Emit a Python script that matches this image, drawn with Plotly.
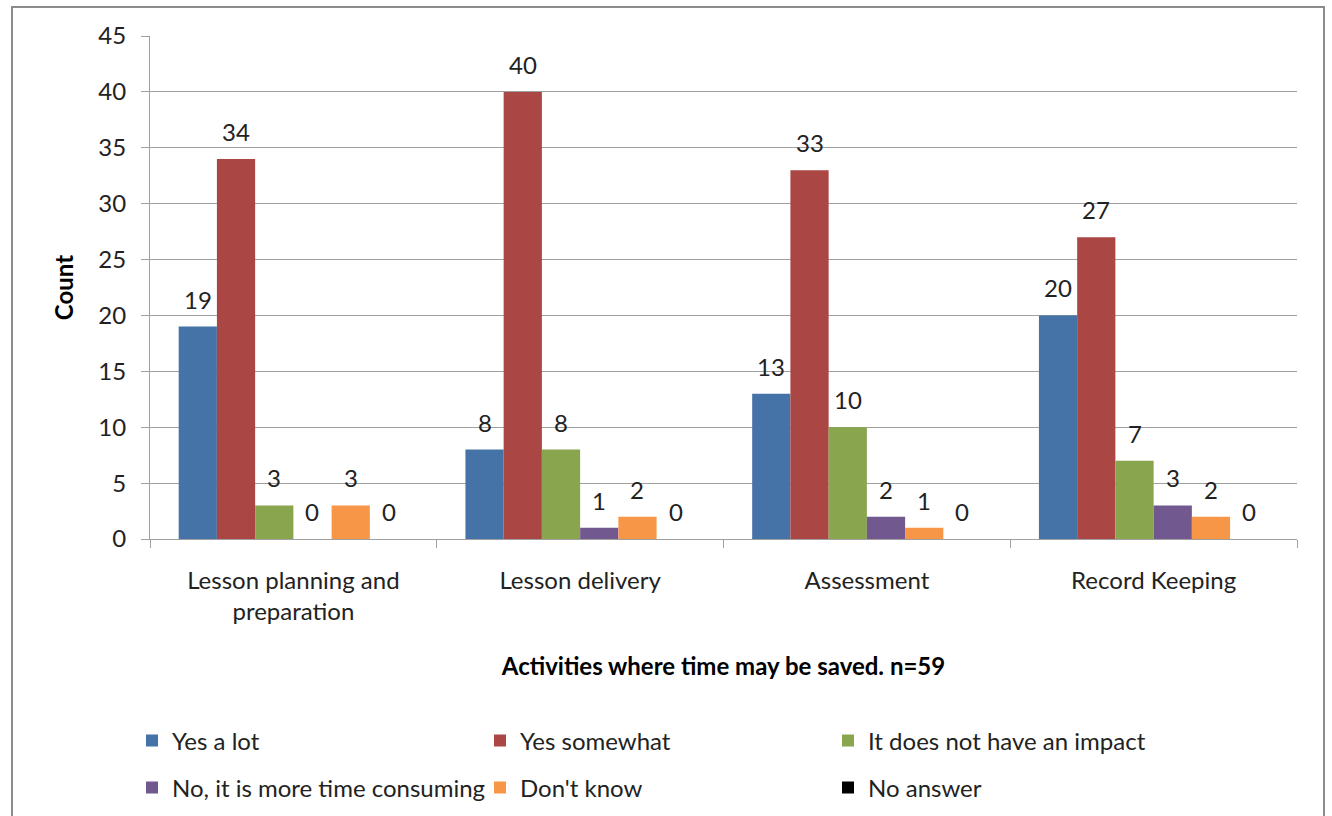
import plotly.graph_objects as go

categories = ["Lesson planning and<br>preparation", "Lesson delivery", "Assessment", "Record Keeping"]
series_names = ["Yes a lot", "Yes somewhat", "It does not have an impact",
                "No, it is more time consuming", "Don't know", "No answer"]
yes_a_lot = [19, 8, 13, 20]
yes_somewhat = [34, 40, 33, 27]
no_impact = [3, 8, 10, 7]
more_time = [0, 1, 2, 3]
dont_know = [3, 2, 1, 2]
no_answer = [0, 0, 0, 0]
y_ticks = [0, 5, 10, 15, 20, 25, 30, 35, 40, 45]

values = [yes_a_lot, yes_somewhat, no_impact, more_time, dont_know, no_answer]
colors = ["#4572A7", "#AA4643", "#89A54E", "#71588F", "#F79646", "#000000"]

FONT = "Lato"
FS = 24
TXT = "#222222"
W, H = 1332, 816
L, R, T, B = 150, 35, 36, 277
BARGAP = 0.2

pw = W - L - R
ph = H - T - B
n_series = len(series_names)
bar_px = pw / len(categories) * (1 - BARGAP) / n_series

fig = go.Figure()
for i, (name, vals, col) in enumerate(zip(series_names, values, colors)):
    fig.add_trace(go.Bar(
        x=categories, y=vals, name=name,
        marker=dict(color=col, line=dict(width=0)),
        legend="legend" if i < 3 else "legend2",
    ))
    # value labels centred over each bar
    for cat, v in zip(categories, vals):
        fig.add_annotation(
            x=cat, y=v, text=str(v), showarrow=False,
            xref="x", yref="y", yanchor="bottom",
            xshift=(i - (n_series - 1) / 2) * bar_px, yshift=11,
            font=dict(family=FONT, size=FS, color=TXT),
        )

# outer chart frame
fig.add_shape(type="rect", xref="paper", yref="paper",
              x0=(12 - L) / pw, x1=(1324 - L) / pw,
              y0=-(B + 20) / ph, y1=(H - B - 7) / ph,
              line=dict(color="#8c8c8c", width=2), fillcolor="rgba(0,0,0,0)", layer="below")

legend_common = dict(orientation="h", xanchor="left", yanchor="middle",
                     entrywidth=303, entrywidthmode="pixels",
                     font=dict(family=FONT, size=FS, color=TXT),
                     traceorder="normal", itemwidth=30, bgcolor="rgba(0,0,0,0)")

fig.update_layout(
    width=W, height=H,
    margin=dict(l=L, r=R, t=T, b=B, autoexpand=False),
    paper_bgcolor="white", plot_bgcolor="white",
    barmode="group", bargap=BARGAP, bargroupgap=0,
    font=dict(family=FONT, size=FS, color=TXT),
    showlegend=True,
    legend=dict(x=(132 - L) / pw, y=-(741 - (H - B)) / ph, **legend_common),
    legend2=dict(x=(132 - L) / pw, y=-(788 - (H - B)) / ph, **legend_common),
)
fig.update_xaxes(
    automargin=False,
    showline=True, linecolor="#a0a0a0", linewidth=1,
    ticks="outside", tickson="boundaries", ticklen=8, tickcolor="#a0a0a0",
    ticklabelstandoff=20,
    tickfont=dict(family=FONT, size=FS, color=TXT),
    title=dict(text="<b>Activities where time may be saved. n=59</b>",
               font=dict(family=FONT, size=FS, color="#000000"), standoff=34),
)
fig.update_yaxes(
    automargin=False,
    range=[0, 45], tickvals=y_ticks,
    showline=True, linecolor="#a0a0a0", linewidth=1,
    ticks="outside", ticklen=8, tickcolor="#a0a0a0",
    ticklabelstandoff=10,
    showgrid=True, gridcolor="#a0a0a0", gridwidth=1,
    zeroline=False,
    tickfont=dict(family=FONT, size=FS, color=TXT),
    title=dict(text="<b>Count</b>", font=dict(family=FONT, size=FS, color="#000000"), standoff=17),
)

fig.write_html("out.html")
